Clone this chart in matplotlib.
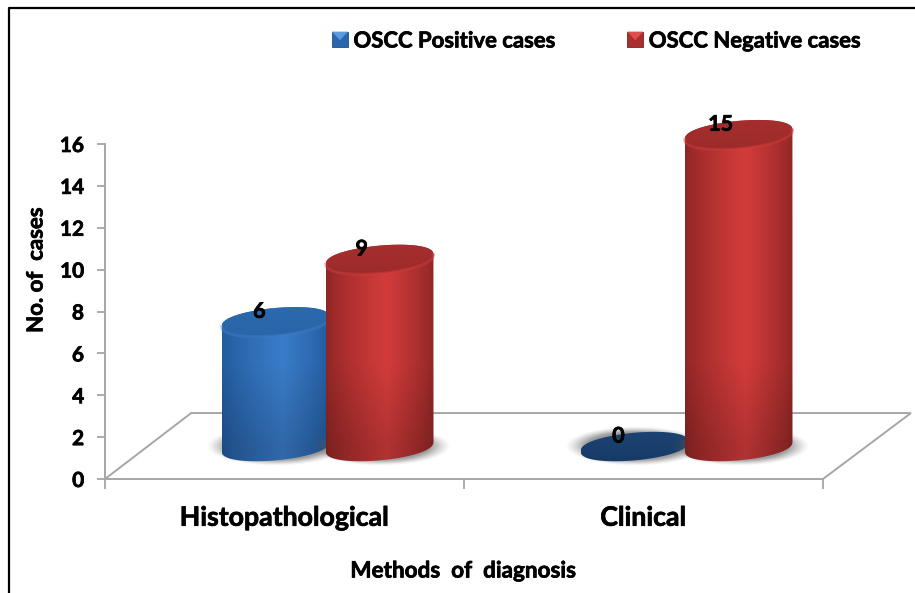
import numpy as np
import matplotlib
matplotlib.use('Agg')
import matplotlib.pyplot as plt
import matplotlib.patheffects as pe
from matplotlib.patches import Patch, PathPatch, Polygon, Rectangle
from matplotlib.path import Path
from matplotlib.colors import to_rgb

# values
categories = ['Histopathological', 'Clinical']
positive_cases = [6, 0]
negative_cases = [9, 15]
y_ticks = [0, 2, 4, 6, 8, 10, 12, 14, 16]

plt.rcParams['font.family'] = ['Lato', 'DejaVu Sans']
plt.rcParams['font.weight'] = 'bold'

W, H = 915, 593
fig = plt.figure(figsize=(W / 100, H / 100), dpi=100)
ax = fig.add_axes([105 / W, (H - 479) / H, 718 / W, 335 / H])
ax.set_xlim(0, 2)
ax.set_ylim(0, 16)

# the 3D look: bars stand on a floor raised above the axis
floor_y = 1.55
height_scale = 0.993
bar_w = 0.3
cap_h = 0.66
tilt = 1.5   # rise of the ellipses to the right, data units per x unit
offsets = [0.475, 0.765]
grey = '#a6a6a6'
bold = [pe.withStroke(linewidth=0.5, foreground='black')]


def ellipse_pts(cx, cy, start, stop, n=80):
    t = np.linspace(start, stop, n)
    x = cx + bar_w / 2 * np.cos(t)
    s = np.sin(t)
    y = cy + cap_h * np.sign(s) * np.abs(s) ** 0.85 + tilt * (x - cx)
    return np.column_stack([x, y])


def shade_image(edge, mid, body_h, peak=0.56):
    xs = np.linspace(0, 1, 200)
    k = np.where(xs < peak, xs / peak, (1 - xs) / (1 - peak)) ** 0.8
    edge, mid = np.array(to_rgb(edge)), np.array(to_rgb(mid))
    row = (edge + (mid - edge) * k[:, None])[None, :, :]
    # darker towards the floor
    hs = np.linspace(body_h + 2, -2, 200)
    fade = 0.84 + 0.16 * np.clip(hs / 4.0, 0, 1)
    return row * fade[:, None, None]


def draw_shadow(cx, zorder):
    nx, ny = 160, 60
    xs = np.linspace(-1, 1, nx)
    ys = np.linspace(-1, 1, ny)
    xx, yy = np.meshgrid(xs, ys)
    r = np.sqrt(xx ** 2 + yy ** 2)
    alpha = np.clip((1 - r) / 0.3, 0, 1) ** 1.3 * 0.6
    img = np.zeros((ny, nx, 4))
    img[..., :3] = 0.35
    img[..., 3] = alpha
    hw = bar_w / 2 * 1.3
    ax.imshow(img, extent=(cx - hw, cx + hw, floor_y - 0.95, floor_y + 0.95),
              aspect='auto', zorder=zorder, interpolation='bilinear')


def draw_cylinder(cx, value, edge, mid, cap_light, cap_dark, rim, zorder):
    top = floor_y + value * height_scale
    draw_shadow(cx, zorder - 0.5)
    x0, x1 = cx - bar_w / 2, cx + bar_w / 2
    if value > 0:
        # body
        outline = np.vstack([ellipse_pts(cx, floor_y, np.pi, 2 * np.pi),
                             ellipse_pts(cx, top, 0, np.pi)])
        clip = PathPatch(Path(np.vstack([outline, outline[:1]])), transform=ax.transData,
                         fc='none', ec='none')
        ax.add_patch(clip)
        im = ax.imshow(shade_image(edge, mid, top - floor_y), extent=(x0, x1, floor_y - 2, top + 2),
                       aspect='auto', zorder=zorder)
        im.set_clip_box(fig.bbox)
        im.set_clip_path(clip)
    # top (or the flat disc for a zero value)
    clip2 = Polygon(ellipse_pts(cx, top, 0, 2 * np.pi, 160), transform=ax.transData,
                    fc='none', ec='none')
    ax.add_patch(clip2)
    grad = np.linspace(0, 1, 60)[:, None, None]
    c0, c1 = np.array(to_rgb(cap_dark)), np.array(to_rgb(cap_light))
    img = c0 + (c1 - c0) * grad
    im2 = ax.imshow(img, extent=(x0, x1, top + 0.9, top - 0.9), aspect='auto',
                    zorder=zorder + 0.1)
    im2.set_clip_box(fig.bbox)
    im2.set_clip_path(clip2)
    if value > 0:
        # soft lit rim under the top
        low = ellipse_pts(cx, top, np.pi, 2 * np.pi)
        ax.plot(low[:, 0], low[:, 1], color=rim, lw=2, alpha=0.45, clip_on=False,
                zorder=zorder + 0.2)


class BevelHandler:
    # small square legend key with the lighter wedge on top
    def legend_artist(self, legend, orig_handle, fontsize, handlebox):
        x0, y0 = handlebox.xdescent, handlebox.ydescent
        w, h = handlebox.width, handlebox.height
        tr = handlebox.get_transform()
        rect = Rectangle((x0, y0), w, h, fc=orig_handle.get_facecolor(),
                         ec=orig_handle.get_edgecolor(), lw=0.6, transform=tr)
        tri = Polygon([(x0, y0 + h), (x0 + w, y0 + h), (x0 + w / 2, y0 + h * 0.45)],
                      fc=orig_handle.get_gid(), ec='none', transform=tr)
        handlebox.add_artist(rect)
        handlebox.add_artist(tri)
        return rect


# floor of the chart
floor_x = [0, 0.24, 2.245, 2, 0]
floor_yy = [0, 3.15, 3.15, 0, 0]
ax.plot(floor_x, floor_yy, color=grey, lw=1.4, clip_on=False, zorder=1,
        solid_joinstyle='miter')

for i in range(len(categories)):
    cx_pos = i + offsets[0]
    cx_neg = i + offsets[1]
    if positive_cases[i] > 0:
        draw_cylinder(cx_pos, positive_cases[i], '#225a9c', '#3a7cc9', '#2c69ae', '#2a64a8',
                      '#3f7fc9', 3)
    else:
        draw_cylinder(cx_pos, 0, '#225a9c', '#3a7cc9', '#1c4474', '#173a66', '#1c4474', 3)
    draw_cylinder(cx_neg, negative_cases[i], '#8f2625', '#d33c3b', '#a62f2e', '#9c2a2a',
                  '#cf3f3e', 4)
    ax.text(cx_pos - 0.045, floor_y + positive_cases[i] * height_scale + 0.5, str(positive_cases[i]),
            ha='center', va='center', fontsize=15.5, color='black', zorder=6, path_effects=bold)
    ax.text(cx_neg - 0.05, floor_y + negative_cases[i] * height_scale + 0.5, str(negative_cases[i]),
            ha='center', va='center', fontsize=15.5, color='black', zorder=6, path_effects=bold)

ax.set_xlim(0, 2)
ax.set_ylim(0, 16)
ax.set_aspect('auto')

# axes
for side in ['top', 'right', 'bottom']:
    ax.spines[side].set_visible(False)
ax.spines['left'].set_color(grey)
ax.spines['left'].set_linewidth(1.4)
ax.set_yticks(y_ticks)
ax.tick_params(axis='y', length=6, width=1.3, color=grey, labelsize=15, pad=9)
for lab in ax.get_yticklabels():
    lab.set_path_effects(bold)
ax.set_xticks([0, 1, 2])
ax.set_xticklabels([])
ax.tick_params(axis='x', length=7, width=1.3, color=grey)

for i, name in enumerate(categories):
    ax.text(i + 0.4985, -1.85, name, ha='center', va='center', fontsize=19.2, color='black',
            path_effects=bold)
fig.text(463 / W, 1 - 571 / H, 'Methods  of  diagnosis', ha='center', va='center',
         fontsize=16.2, color='black', path_effects=bold)
fig.text(36 / W, 1 - 270 / H, 'No. of  cases', ha='center', va='center', rotation=90,
         fontsize=16, color='black', path_effects=bold)

# legend
handles = [Patch(facecolor='#2a66ad', edgecolor='#1f4e85', gid='#5c9ade'),
           Patch(facecolor='#a92e2e', edgecolor='#7c2020', gid='#e04c4a')]
leg = fig.legend(handles, ['OSCC Positive cases', 'OSCC Negative cases'], ncol=2, frameon=False,
                 loc='center left', bbox_to_anchor=(332 / W, 1 - 41 / H), fontsize=15.9,
                 handlelength=0.72, handleheight=0.72, handletextpad=0.25, columnspacing=3.25,
                 borderpad=0, borderaxespad=0, handler_map={Patch: BevelHandler()})
for txt in leg.get_texts():
    txt.set_path_effects(bold)

# frame around the picture
fig.add_artist(plt.Line2D([9 / W, 9 / W, 1], [0, 1 - 7.5 / H, 1 - 7.5 / H], color='black', lw=1.6))

fig.savefig('out.png', dpi=100)
plt.close()
